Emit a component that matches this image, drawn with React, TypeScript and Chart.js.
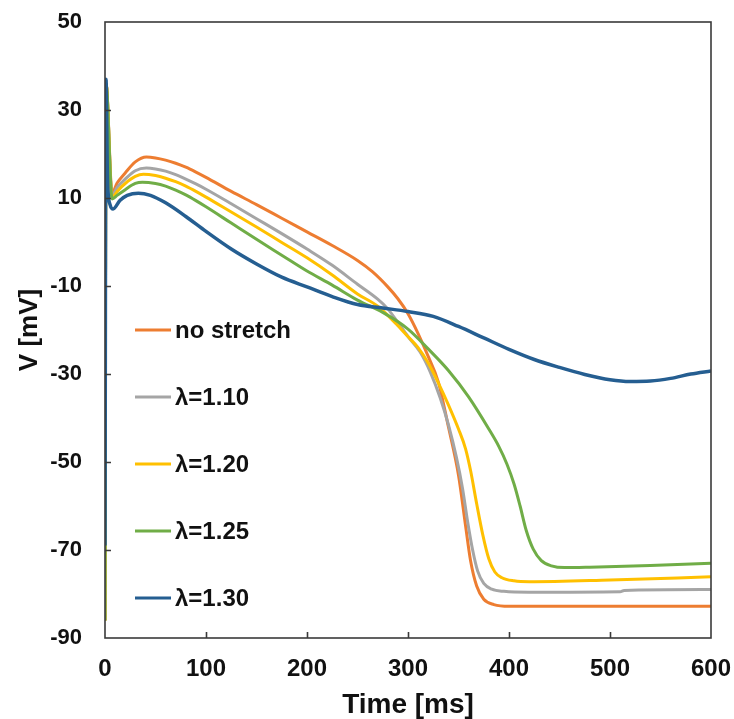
import React, { useEffect, useRef } from "react";
import { Chart, registerables } from "chart.js";

Chart.register(...registerables);

const seriesLabels = ["no stretch", "λ=1.10", "λ=1.20", "λ=1.25", "λ=1.30"];
const seriesColors = ["#ED7D31", "#A5A5A5", "#FFC000", "#70AD47", "#255E91"];

const tOrange = [0, 1, 7, 12, 20, 30, 41, 50, 60, 70, 80, 90, 100, 125, 150, 175, 200, 225, 250, 265, 280, 290, 300, 310, 320, 330, 340, 350, 357, 362, 368, 375, 385, 400, 600];
const vOrange = [-86, 36, 11.1, 13.4, 15.7, 18.2, 19.3, 19.1, 18.6, 17.9, 17.0, 15.9, 14.7, 11.5, 8.5, 5.4, 2.3, -0.8, -4.2, -6.8, -10.2, -12.9, -16.3, -20.8, -26, -31.8, -42, -53, -64.5, -72.5, -78.2, -81.2, -82.4, -82.8, -82.8];

const tGray = [0, 1, 7, 12, 20, 30, 41, 50, 60, 70, 80, 90, 100, 125, 150, 175, 200, 225, 250, 270, 280, 290, 300, 312, 322, 332, 340, 348, 354, 359, 364, 369, 375, 383, 395, 420, 510, 514, 600];
const vGray = [-86, 36, 10.5, 12.4, 14.3, 16.2, 16.8, 16.6, 16.1, 15.3, 14.3, 13.2, 12.0, 8.7, 5.3, 1.9, -1.6, -5.3, -9.6, -13, -15.2, -18.3, -21.5, -25, -29.5, -35.5, -41.5, -49, -56, -63.5, -70, -74.8, -77.6, -78.9, -79.4, -79.6, -79.5, -79.2, -79.0];

const tYellow = [0, 1, 7, 12, 20, 30, 38, 50, 60, 70, 80, 90, 100, 125, 150, 175, 200, 225, 250, 270, 290, 300, 310, 320, 330, 340, 350, 357, 362, 368, 374, 380, 386, 393, 405, 420, 500, 600];
const vYellow = [-86, 36, 10, 11.5, 13.3, 14.9, 15.4, 15.1, 14.5, 13.7, 12.7, 11.5, 10.2, 6.8, 3.4, -0.1, -3.6, -7.5, -11.8, -14.6, -19, -21.5, -24, -27.5, -32, -37, -42.5, -47, -52, -59.5, -66.5, -72, -75, -76.3, -77, -77.2, -76.8, -76.1];

const tGreen = [0, 1, 7, 12, 20, 30, 37, 50, 60, 70, 80, 90, 100, 125, 150, 175, 200, 225, 250, 275, 300, 320, 340, 360, 380, 390, 398, 405, 411, 417, 424, 432, 442, 455, 480, 540, 600];
const vGreen = [-86, 36, 9.8, 10.6, 11.9, 13.3, 13.6, 13.3, 12.7, 11.8, 10.7, 9.4, 8.0, 4.3, 0.6, -3.0, -6.6, -9.8, -13.2, -16.0, -19.8, -24.3, -29.2, -35.2, -42.5, -46.5, -50.5, -55, -60, -65.5, -69.8, -72.4, -73.6, -74, -73.9, -73.5, -73];

const tBlue = [0, 1, 2.5, 5, 8, 15, 22, 33, 45, 60, 80, 100, 125, 150, 175, 200, 225, 250, 275, 300, 325, 350, 375, 400, 425, 450, 475, 500, 520, 540, 560, 580, 600];
const vBlue = [-69, 37, 14, 8.5, 7.5, 9.5, 10.6, 11.1, 10.6, 8.9, 5.8, 2.4, -1.6, -5.0, -8.0, -10.2, -12.4, -14.2, -15.0, -15.8, -16.9, -19.2, -21.8, -24.4, -26.7, -28.5, -30.1, -31.3, -31.7, -31.6, -31.0, -30.0, -29.3];

const seriesT = [tOrange, tGray, tYellow, tGreen, tBlue];
const seriesV = [vOrange, vGray, vYellow, vGreen, vBlue];

const xTitle = "Time [ms]";
const yTitle = "V [mV]";
const xMin = 0, xMax = 600, xStep = 100;
const yMin = -90, yMax = 50, yStep = 20;

const FONT = "Arial, 'Liberation Sans', sans-serif";

const framePlugin = {
  id: "frameAndLegend",
  afterDatasetsDraw(chart: any) {
    const { ctx, chartArea } = chart;
    const { left, right, top, bottom } = chartArea;
    const xs = chart.scales.x;
    const ys = chart.scales.y;
    ctx.save();
    ctx.strokeStyle = "#3a3a3a";
    ctx.lineWidth = 1.6;
    ctx.strokeRect(left, top, right - left, bottom - top);
    ctx.beginPath();
    for (let v = yMin + yStep; v < yMax; v += yStep) {
      const y = Math.round(ys.getPixelForValue(v)) + 0.5;
      ctx.moveTo(left, y);
      ctx.lineTo(left + 6, y);
    }
    for (let v = xMin + xStep; v < xMax; v += xStep) {
      const x = Math.round(xs.getPixelForValue(v)) + 0.5;
      ctx.moveTo(x, bottom);
      ctx.lineTo(x, bottom - 6);
    }
    ctx.stroke();

    // legend inside plot
    const lx = left + 30;
    const ly = top + 308;
    const gap = 67;
    ctx.font = `bold 24px ${FONT}`;
    ctx.textBaseline = "middle";
    ctx.textAlign = "left";
    seriesLabels.forEach((lab, i) => {
      const y = ly + i * gap;
      ctx.strokeStyle = seriesColors[i];
      ctx.lineWidth = 3;
      ctx.beginPath();
      ctx.moveTo(lx, y);
      ctx.lineTo(lx + 36, y);
      ctx.stroke();
      ctx.fillStyle = "#111";
      ctx.fillText(lab, lx + 40, y + 1);
    });
    ctx.restore();
  },
};

export default function App() {
  const ref = useRef<HTMLCanvasElement | null>(null);
  useEffect(() => {
    if (!ref.current) return;
    const datasets = seriesLabels.map((lab, i) => ({
      label: lab,
      data: seriesT[i].map((t, j) => ({ x: t, y: seriesV[i][j] })),
      borderColor: seriesColors[i],
      backgroundColor: seriesColors[i],
      borderWidth: i === 4 ? 3.5 : 3,
      pointRadius: 0,
      fill: false,
      cubicInterpolationMode: "monotone" as const,
      order: 5 - i,
    }));
    const chart = new Chart(ref.current, {
      type: "line",
      data: { datasets },
      options: {
        animation: false,
        responsive: true,
        maintainAspectRatio: false,
        layout: { padding: { top: 22, right: 23, left: 0, bottom: 0 } },
        plugins: { legend: { display: false }, tooltip: { enabled: false } },
        scales: {
          x: {
            type: "linear",
            min: xMin,
            max: xMax,
            grid: { display: false, drawTicks: false },
            border: { display: false },
            ticks: {
              stepSize: xStep,
              padding: 17,
              color: "#111",
              font: { family: FONT, size: 24, weight: "bold" },
            },
            title: {
              display: true,
              text: xTitle,
              color: "#111",
              padding: { top: 0, bottom: -3 },
              font: { family: FONT, size: 28, weight: "bold" },
            },
            afterFit: (s: any) => {
              s.height = 81;
              s.paddingLeft = 0;
              s.paddingRight = 0;
            },
          },
          y: {
            type: "linear",
            min: yMin,
            max: yMax,
            grid: { display: false, drawTicks: false },
            border: { display: false },
            ticks: {
              stepSize: yStep,
              padding: 23,
              color: "#111",
              font: { family: FONT, size: 22, weight: "bold" },
            },
            title: {
              display: true,
              text: yTitle,
              color: "#111",
              padding: { top: 14, bottom: 0 },
              font: { family: FONT, size: 26, weight: "bold" },
            },
            afterFit: (s: any) => {
              s.width = 105;
              s.paddingTop = 0;
              s.paddingBottom = 0;
            },
          },
        },
      },
      plugins: [framePlugin],
    });
    return () => chart.destroy();
  }, []);
  return (
    <div style={{ position: "absolute", left: 0, top: 0, width: 734, height: 719, background: "#fff" }}>
      <canvas ref={ref} />
    </div>
  );
}
